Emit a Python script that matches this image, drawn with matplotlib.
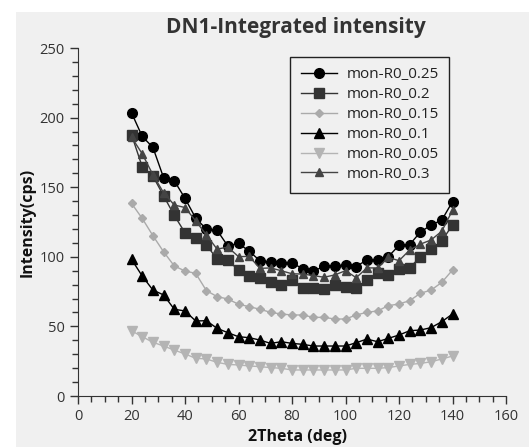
import matplotlib
matplotlib.use("Agg")
from matplotlib import pyplot as plt
from matplotlib.patches import Rectangle
from matplotlib.ticker import MultipleLocator

# 2theta positions (deg), same for every run
two_theta = [20, 24, 28, 32, 36, 40, 44, 48, 52, 56, 60, 64, 68, 72, 76, 80,
             84, 88, 92, 96, 100, 104, 108, 112, 116, 120, 124, 128, 132, 136, 140]

r0_025 = [203.5, 186.5, 178.6, 156.8, 154.6, 142.0, 127.8, 119.8, 119.0, 107.8, 109.7,
          104.0, 97.2, 96.2, 95.9, 95.9, 91.2, 89.6, 93.3, 93.4, 94.1, 93.0, 97.8, 97.5,
          100.1, 108.2, 108.8, 117.8, 122.8, 126.4, 139.6]
r0_02 = [187.8, 164.7, 158.0, 143.8, 129.7, 117.3, 113.5, 108.8, 98.1, 97.5, 90.5,
         86.0, 84.9, 82.1, 79.7, 83.0, 77.9, 77.9, 77.0, 79.7, 78.5, 77.4, 83.3, 88.1,
         87.0, 91.2, 92.3, 99.8, 105.3, 111.5, 122.8]
r0_015 = [138.4, 127.6, 115.2, 103.6, 93.4, 89.8, 88.1, 75.7, 71.4, 69.7, 65.9,
          64.2, 62.3, 60.1, 58.9, 58.2, 58.2, 56.5, 56.5, 55.3, 55.3, 58.2, 60.1, 61.1,
          64.9, 66.1, 68.5, 73.8, 76.1, 81.6, 90.5]
r0_01 = [98.2, 86.2, 76.1, 72.6, 62.3, 61.1, 53.9, 54.1, 48.6, 45.5, 42.6,
         41.9, 40.2, 37.8, 39.0, 37.8, 37.1, 35.9, 35.9, 35.9, 35.9, 38.3, 40.9, 39.0,
         41.4, 43.8, 46.9, 47.4, 49.1, 53.4, 58.9]
r0_005 = [46.9, 42.6, 38.6, 35.9, 33.0, 30.2, 27.1, 26.6, 24.2, 22.7, 22.3,
          21.6, 21.1, 20.4, 19.9, 18.7, 18.7, 18.7, 18.7, 18.7, 18.7, 19.9, 19.9, 19.9,
          20.4, 21.6, 22.7, 23.4, 24.6, 26.6, 28.7]
r0_03 = [186.0, 174.0, 159.0, 146.0, 137.2, 135.4, 125.8, 115.7, 105.5, 107.0, 100.1,
         100.3, 91.7, 92.0, 90.0, 87.8, 87.6, 86.5, 85.3, 87.0, 90.0, 85.0, 92.0, 92.0,
         99.6, 97.2, 104.9, 109.1, 112.1, 118.4, 133.4]

labels = ["mon-R0_0.25", "mon-R0_0.2", "mon-R0_0.15", "mon-R0_0.1", "mon-R0_0.05", "mon-R0_0.3"]

bg = "#f0f0f0"
txt = "#333333"
plt.rcParams["font.family"] = ["Open Sans", "DejaVu Sans"]

fig = plt.figure(figsize=(5.29, 4.47), dpi=100)
fig.patches.append(Rectangle((16 / 529, 0), 1, (447 - 12) / 447, transform=fig.transFigure,
                             facecolor=bg, edgecolor="none", zorder=-10))
ax = fig.add_axes([78 / 529, 51 / 447, 428 / 529, 348 / 447])
ax.set_facecolor(bg)

ax.plot(two_theta, r0_025, "-o", color="#000000", ms=7, lw=1, label=labels[0])
ax.plot(two_theta, r0_02, "-s", color="#333333", ms=6.5, lw=1, label=labels[1])
ax.plot(two_theta, r0_015, "-D", color="#aaaaaa", ms=4, lw=1, label=labels[2])
ax.plot(two_theta, r0_01, "-^", color="#000000", ms=6.5, lw=1, label=labels[3])
ax.plot(two_theta, r0_005, "-v", color="#b4b4b4", ms=6.5, lw=1, label=labels[4])
ax.plot(two_theta, r0_03, "-^", color="#444444", ms=6, lw=1, label=labels[5])

ax.set_xlim(0, 160)
ax.set_ylim(0, 250)
ax.xaxis.set_major_locator(MultipleLocator(20))
ax.xaxis.set_minor_locator(MultipleLocator(5))
ax.yaxis.set_major_locator(MultipleLocator(50))
ax.yaxis.set_minor_locator(MultipleLocator(10))
ax.tick_params(which="major", length=6, width=1, color=txt, labelcolor=txt, labelsize=10.5)
ax.tick_params(which="minor", length=4, width=1, color=txt)
for s in ["top", "right"]:
    ax.spines[s].set_visible(False)
for s in ["left", "bottom"]:
    ax.spines[s].set_color(txt)
    ax.spines[s].set_clip_on(False)

ax.set_title("DN1-Integrated intensity", fontsize=15, fontweight="bold", color=txt, pad=11,
             x=0.51)
ax.set_xlabel("2Theta (deg)", fontsize=11.5, fontweight="bold", color="#111111", labelpad=1)
ax.xaxis.set_label_coords(0.512, -0.095)
ax.set_ylabel("Intensity(cps)", fontsize=11.5, fontweight="bold", color="#111111", labelpad=3)

leg = ax.legend(loc="upper left", bbox_to_anchor=(0.495, 0.975), borderaxespad=0,
                fancybox=False, framealpha=1, facecolor=bg, edgecolor="#222222",
                fontsize=11, handlelength=2.4, handletextpad=0.6, labelspacing=0.32,
                borderpad=0.7)
for t in leg.get_texts():
    t.set_color("#222222")

fig.savefig("out.png", dpi=100)
